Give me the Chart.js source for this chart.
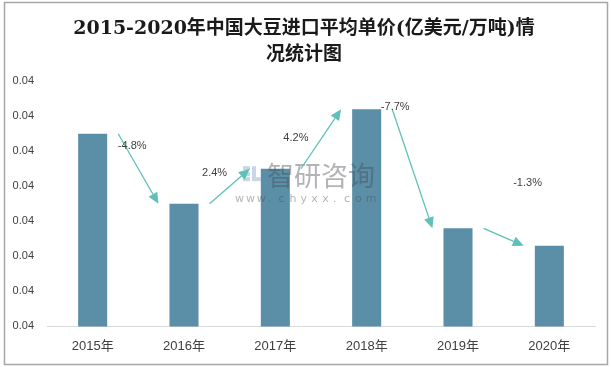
<!DOCTYPE html>
<html>
<head>
<meta charset="utf-8">
<script src="https://cdn.jsdelivr.net/npm/chart.js@4/dist/chart.umd.min.js"></script>
<style>
  html, body { margin: 0; padding: 0; background: #fff; }
  #wrap { width: 611px; height: 367px; }
</style>
</head>
<body>
<div id="wrap"><canvas id="priceChart" width="611" height="367"></canvas></div>
<script>
// 2015-2020年中国大豆进口平均单价 (亿美元/万吨)
const years = ['2015年', '2016年', '2017年', '2018年', '2019年', '2020年'];
const unitPrice = [0.0435, 0.0415, 0.0425, 0.0442, 0.0408, 0.0403];
const growthLabels = ['-4.8%', '2.4%', '4.2%', '-7.7%', '-1.3%'];
const yTickLabels = ['0.04', '0.04', '0.04', '0.04', '0.04', '0.04', '0.04', '0.04'];

const titleLines = ['2015-2020年中国大豆进口平均单价(亿美元/万吨)情', '况统计图'];

// white background + grey frame
const framePlugin = {
  id: 'frame',
  beforeDraw(chart) {
    const ctx = chart.ctx;
    ctx.save();
    ctx.fillStyle = '#ffffff';
    ctx.fillRect(0, 0, chart.width, chart.height);
    ctx.strokeStyle = '#a6a6a6';
    ctx.lineWidth = 1.5;
    ctx.strokeRect(4.5, 2.5, chart.width - 8, chart.height - 5);
    ctx.restore();
  }
};

// faint watermark over the plot
const watermarkPlugin = {
  id: 'watermark',
  afterDatasetsDraw(chart) {
    const ctx = chart.ctx;
    const a = chart.chartArea;
    const x0 = a.left + 196;
    const y0 = a.top + 85;
    ctx.save();
    // small logo
    ctx.fillStyle = 'rgba(185, 205, 228, 0.8)';
    ctx.fillRect(x0, y0, 7, 4);
    ctx.fillRect(x0 + 3, y0 + 6, 4, 4);
    ctx.fillRect(x0, y0 + 11, 7, 4);
    ctx.fillRect(x0 + 9, y0, 4, 15);
    ctx.fillRect(x0 + 13, y0 + 11, 5, 4);
    ctx.fillStyle = 'rgba(70, 75, 82, 0.42)';
    ctx.font = '27px "Noto Sans CJK SC"';
    ctx.textBaseline = 'middle';
    ctx.fillText('智研咨询', x0 + 24, y0 + 10);
    ctx.font = '11px "DejaVu Sans"';
    const site = 'www.chyxx.com';
    for (let i = 0; i < site.length; i++) {
      ctx.fillText(site[i], x0 - 8 + i * 10.9, y0 + 33);
    }
    ctx.restore();
  }
};

// growth arrows between bars
const arrowPlugin = {
  id: 'growthArrows',
  afterDatasetsDraw(chart, args, opts) {
    const ctx = chart.ctx;
    const xs = chart.scales.x;
    const ys = chart.scales.y;
    ctx.save();
    for (let i = 0; i < growthLabels.length; i++) {
      const x1 = xs.getPixelForValue(i + opts.gap);
      const y1 = ys.getPixelForValue(unitPrice[i]);
      const x2 = xs.getPixelForValue(i + 1 - opts.gap);
      const y2 = ys.getPixelForValue(unitPrice[i + 1]);
      const ang = Math.atan2(y2 - y1, x2 - x1);
      const head = 11;
      const bx = x2 - head * Math.cos(ang);
      const by = y2 - head * Math.sin(ang);
      ctx.strokeStyle = opts.color;
      ctx.fillStyle = opts.color;
      ctx.lineWidth = 1.3;
      ctx.beginPath();
      ctx.moveTo(x1, y1);
      ctx.lineTo(bx, by);
      ctx.stroke();
      ctx.beginPath();
      ctx.moveTo(x2, y2);
      ctx.lineTo(bx + 5 * Math.sin(ang), by - 5 * Math.cos(ang));
      ctx.lineTo(bx - 5 * Math.sin(ang), by + 5 * Math.cos(ang));
      ctx.closePath();
      ctx.fill();

      const off = opts.labelOffsets[i];
      ctx.fillStyle = '#404040';
      ctx.font = '11px "Liberation Sans"';
      ctx.textAlign = 'center';
      ctx.textBaseline = 'middle';
      ctx.fillText(growthLabels[i], x1 + off[0], y1 + off[1]);
    }
    ctx.restore();
  }
};

const ctx = document.getElementById('priceChart').getContext('2d');
new Chart(ctx, {
  type: 'bar',
  data: {
    labels: years,
    datasets: [{
      label: '平均单价',
      data: unitPrice,
      backgroundColor: '#5b8fa7',
      borderWidth: 0,
      categoryPercentage: 1,
      barPercentage: 0.318
    }]
  },
  options: {
    responsive: false,
    animation: false,
    layout: { padding: { left: 13, right: 16, top: 0, bottom: 1 } },
    scales: {
      x: {
        grid: { display: false, drawTicks: false },
        border: { display: true, color: '#d9d9d9', width: 1 },
        ticks: {
          color: '#404040',
          padding: 12,
          font: { family: '"Liberation Sans", "Noto Sans CJK SC"', size: 13 }
        }
      },
      y: {
        min: 0.038,
        max: 0.045,
        grid: { display: false, drawTicks: false },
        border: { display: false },
        afterFit(scale) { scale.width = 34; },
        ticks: {
          stepSize: 0.001,
          color: '#404040',
          padding: 13,
          font: { family: '"Liberation Sans"', size: 11 },
          callback: (v, idx) => yTickLabels[idx]
        }
      }
    },
    plugins: {
      legend: { display: false },
      tooltip: { enabled: false },
      title: {
        display: true,
        text: titleLines,
        color: '#1a1a1a',
        font: { family: '"DejaVu Serif", "Noto Sans CJK SC"', size: 19, weight: 'bold', lineHeight: 1.32 },
        padding: { top: 17, bottom: 14 }
      },
      growthArrows: {
        gap: 0.28,
        color: '#5fbfb9',
        labelOffsets: [[14, 12], [5, -31], [-5, -31], [3, -2], [44, -45]]
      }
    }
  },
  plugins: [framePlugin, watermarkPlugin, arrowPlugin]
});
</script>
</body>
</html>
